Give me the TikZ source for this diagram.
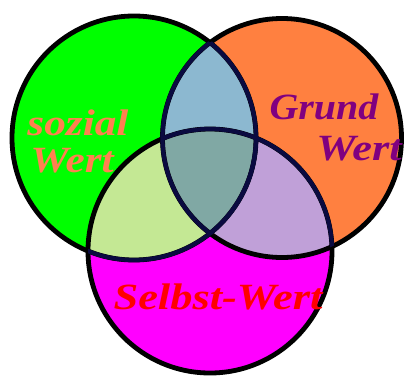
\documentclass[tikz,border=0pt]{standalone}
\usepackage{fontspec}
\setmainfont{Liberation Serif}
\definecolor{cgreen}{HTML}{00FF00}
\definecolor{corange}{HTML}{FF8040}
\definecolor{cmag}{HTML}{FF00FF}
\definecolor{cgo}{HTML}{8CB8D0}
\definecolor{cgm}{HTML}{C4E894}
\definecolor{com}{HTML}{C0A0D8}
\definecolor{call}{HTML}{80A8A4}
\definecolor{cinner}{HTML}{0A0A40}
\definecolor{tsoz}{HTML}{FF8050}
\definecolor{tgrund}{HTML}{800080}
\definecolor{tselbst}{HTML}{FF0000}
\tikzset{
  outline/.style={draw=black, line width=4.8pt},
  innerline/.style={draw=cinner, line width=4.2pt},
  lbl/.style={font=\fontsize{37}{39}\selectfont\bfseries\itshape, inner sep=0pt, align=center}
}
\begin{document}
\begin{tikzpicture}[x=1pt,y=-1pt]
\useasboundingbox (0,0) rectangle (404,378);
\fill[white] (0,0) rectangle (404,378);
\def\G{(134,138) circle[radius=122]}
\def\O{(282,138) circle[radius=119.5]}
\def\M{(210,251) circle[radius=122]}
% base fills
\fill[cgreen] \G;
\fill[corange] \O;
\fill[cmag] \M;
% overlaps
\begin{scope}\clip \G; \fill[cgo] \O; \end{scope}
\begin{scope}\clip \G; \fill[cgm] \M; \end{scope}
\begin{scope}\clip \O; \fill[com] \M; \end{scope}
\begin{scope}\clip \G; \clip \O; \fill[call] \M; \end{scope}
% outlines
\draw[outline] \G;
\draw[outline] \O;
\draw[outline] \M;
% inner arcs
\begin{scope}\clip \O; \draw[innerline] \G; \draw[innerline] \M; \end{scope}
\begin{scope}\clip \M; \draw[innerline] \G; \end{scope}
\begin{scope}\clip \G; \draw[innerline] \O; \end{scope}
% labels
\node[lbl, text=tsoz, xscale=1.17] (soz) at (78,123) {sozial};
\node[lbl, text=tsoz, xscale=1.17] (sozw) at (72,161) {Wert};
\node[lbl, text=tgrund, xscale=1.08] (grund) at (324,107) {Grund};
\node[lbl, text=tgrund, xscale=1.2] (grundw) at (359,149) {Wert};
\node[lbl, text=tselbst, xscale=1.2] (selbst) at (218,297) {Selbst-Wert};
\end{tikzpicture}
\end{document}
